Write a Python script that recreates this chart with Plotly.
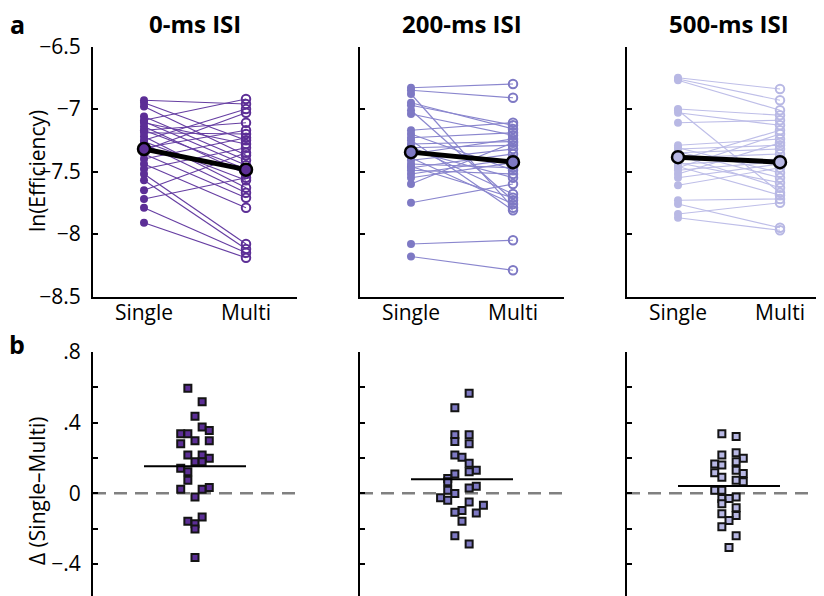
import plotly.graph_objects as go

# ---------------- data ----------------
conditions = ["0-ms ISI", "200-ms ISI", "500-ms ISI"]
categories = ["Single", "Multi"]

single_0 = [-6.93, -6.95, -6.98, -7.06, -7.09, -7.10, -7.11, -7.14, -7.17, -7.17, -7.19, -7.22, -7.25, -7.26,
            -7.28, -7.31, -7.33, -7.36, -7.40, -7.44, -7.48, -7.52, -7.57, -7.65, -7.72, -7.79, -7.91]
multi_0 = [-6.96, -7.25, -7.37, -7.41, -6.92, -7.45, -7.28, -7.52, -7.11, -7.48, -7.20, -7.63, -7.00, -7.57,
           -7.67, -7.17, -7.03, -7.71, -7.23, -7.79, -7.31, -8.08, -8.12, -7.35, -7.55, -8.15, -8.19]

single_200 = [-6.83, -6.85, -6.88, -6.95, -6.97, -7.01, -7.04, -7.17, -7.20, -7.23, -7.25, -7.28, -7.30, -7.31,
              -7.33, -7.36, -7.39, -7.41, -7.44, -7.46, -7.47, -7.49, -7.52, -7.55, -7.60, -7.75, -8.08, -8.18]
multi_200 = [-6.80, -6.91, -7.79, -7.16, -7.13, -7.73, -7.21, -7.11, -7.49, -7.19, -7.81, -7.26, -7.68, -7.29,
             -7.55, -7.24, -7.76, -7.32, -7.47, -7.71, -7.36, -7.52, -7.40, -7.43, -7.27, -7.60, -8.05, -8.29]

single_500 = [-6.75, -6.76, -6.77, -7.00, -7.01, -7.03, -7.11, -7.29, -7.31, -7.32, -7.34, -7.35, -7.37, -7.39,
              -7.41, -7.43, -7.44, -7.46, -7.47, -7.49, -7.52, -7.55, -7.61, -7.73, -7.76, -7.84, -7.87]
multi_500 = [-6.84, -6.93, -7.01, -7.05, -7.67, -7.13, -7.09, -7.24, -7.51, -7.29, -7.55, -7.32, -7.63, -7.36,
             -7.17, -7.59, -7.40, -7.69, -7.20, -7.42, -7.27, -7.44, -7.47, -7.72, -7.95, -7.75, -7.97]

mean_single = [-7.32, -7.345, -7.385]
mean_multi = [-7.485, -7.425, -7.425]

# panel b: difference (Single - Multi) and beeswarm column index
delta_0 = [0.594, 0.518, 0.436, 0.375, 0.356, 0.337, 0.337, 0.280, 0.297, 0.297, 0.217, 0.217, 0.198, 0.179,
           0.179, 0.141, 0.122, 0.074, 0.023, 0.023, 0.032, -0.021, -0.135, -0.158, -0.173, -0.202, -0.364]
col_0 = [-1, 1, 0, 1, 2, -2, -1, -2, 0, 2, -1, 1, 2, 0, 1, -2, -1, -1, -2, 1, 2, 0, 1, -1, 0, 0, 0]

delta_200 = [0.566, 0.484, 0.331, 0.331, 0.293, 0.280, 0.217, 0.204, 0.170, 0.131, 0.122, 0.109, 0.084, 0.065,
             0.017, 0.040, 0.030, -0.002, -0.025, -0.040, -0.049, -0.068, -0.097, -0.107, -0.112, -0.158,
             -0.240, -0.288]
col_200 = [1, -1, -1, 1, -1, 1, -1, 0, 1, 2, 1, -1, -2, -2, -2, 2, 1, -1, -3, -2, 1, 3, 0, -1, 2, 0, -1, 1]

delta_500 = [0.337, 0.322, 0.217, 0.230, 0.198, 0.166, 0.160, 0.179, 0.116, 0.090, 0.131, 0.112, 0.074, 0.065,
             0.017, 0.017, -0.030, -0.021, -0.030, -0.059, -0.082, -0.116, -0.126, -0.154, -0.189, -0.240, -0.307]
col_500 = [-1, 1, -1, 1, 2, -2, -1, 1, -2, -1, 1, 2, 1, 2, -2, -1, -1, 1, 0, -1, 1, -1, 1, 0, -1, 1, 0]

mean_delta = [0.153, 0.079, 0.041]

colors = ["rgb(92,46,150)", "rgb(126,121,196)", "rgb(184,184,228)"]
line_colors = ["rgb(102,62,162)", "rgb(138,134,206)", "rgb(190,190,232)"]

singles = [single_0, single_200, single_500]
multis = [multi_0, multi_200, multi_500]
deltas = [delta_0, delta_200, delta_500]
cols = [col_0, col_200, col_500]

# ---------------- layout geometry ----------------
# the page body adds an 8px offset; positions below are given in page pixels
W, H = 824, 596
OFF = 8
FONT = "Open Sans"
px_x = lambda p: (p - OFF) / W
px_y = lambda p: 1 - (p - OFF) / H

x_domains = [[px_x(93), px_x(297)], [px_x(360), px_x(564)], [px_x(627), 1.0]]
x_ranges = [[0.5, 2.5], [0.5, 2.5], [0.5, 0.5 + (W + OFF - 627) / 102.0]]
ya_domain = [px_y(296.5), px_y(46.5)]
yb_domain = [0.0, px_y(352)]
yb_range = [-(H + OFF - 493.3) / 176.5, 0.8]

fig = go.Figure()

for i in range(3):
    xa = "x" if i == 0 else f"x{i+1}"
    ya = "y" if i == 0 else f"y{i+1}"
    xb = f"x{i+4}"
    yb = f"y{i+4}"
    # subject lines
    lx, ly = [], []
    for s, m in zip(singles[i], multis[i]):
        lx += [1, 2, None]
        ly += [s, m, None]
    fig.add_trace(go.Scatter(x=lx, y=ly, mode="lines", xaxis=xa, yaxis=ya,
                             line=dict(color=line_colors[i], width=1.2), hoverinfo="skip"))
    fig.add_trace(go.Scatter(x=[1] * len(singles[i]), y=singles[i], mode="markers", xaxis=xa, yaxis=ya,
                             marker=dict(symbol="circle", size=8, color=colors[i], line=dict(width=0))))
    fig.add_trace(go.Scatter(x=[2] * len(multis[i]), y=multis[i], mode="markers", xaxis=xa, yaxis=ya,
                             marker=dict(symbol="circle-open", size=8.5, color=colors[i],
                                         line=dict(width=2, color=colors[i]))))
    fig.add_trace(go.Scatter(x=[1, 2], y=[mean_single[i], mean_multi[i]], mode="lines+markers",
                             xaxis=xa, yaxis=ya, line=dict(color="black", width=5),
                             marker=dict(symbol="circle", size=12, color=colors[i],
                                         line=dict(width=2.5, color="black"))))
    # panel b
    xr = x_ranges[i]
    fig.add_trace(go.Scatter(x=xr, y=[0, 0], mode="lines", xaxis=xb, yaxis=yb,
                             line=dict(color="rgb(128,128,128)", width=2.5, dash="13px,8px")))
    fig.add_trace(go.Scatter(x=[1.5 + c * 0.07 for c in cols[i]], y=deltas[i], mode="markers",
                             xaxis=xb, yaxis=yb,
                             marker=dict(symbol="square", size=7, color=colors[i],
                                         line=dict(width=2, color="rgb(20,20,20)"))))
    fig.add_trace(go.Scatter(x=[1, 2], y=[mean_delta[i]] * 2, mode="lines", xaxis=xb, yaxis=yb,
                             line=dict(color="black", width=2)))

layout = dict(width=W, height=H, margin=dict(l=0, r=0, t=0, b=0, autoexpand=False), showlegend=False,
              plot_bgcolor="white", paper_bgcolor="white",
              font=dict(family=FONT, size=21, color="black"))

for i in range(3):
    k = "" if i == 0 else str(i + 1)
    layout[f"xaxis{k}"] = dict(domain=x_domains[i], range=x_ranges[i], anchor=f"y{k}", automargin=False,
                               showline=True, linewidth=2, linecolor="black", ticks="",
                               tickvals=[1, 2], ticktext=categories, showgrid=False, zeroline=False,
                               ticklabelstandoff=-4, tickfont=dict(size=21, family=FONT))
    layout[f"yaxis{k}"] = dict(domain=ya_domain, range=[-8.5, -6.5], anchor=f"x{k}", automargin=False,
                               showline=True, linewidth=2, linecolor="black", ticks="inside",
                               ticklen=5, tickwidth=2, tickcolor="black",
                               tickvals=[-8.5, -8, -7.5, -7, -6.5],
                               ticktext=["\u22128.5", "\u22128", "\u22127.5", "\u22127", "\u22126.5"],
                               showticklabels=(i == 0), showgrid=False, zeroline=False,
                               ticklabelstandoff=6, tickfont=dict(size=21, family=FONT))
    kb = str(i + 4)
    layout[f"xaxis{kb}"] = dict(domain=x_domains[i], range=x_ranges[i], anchor=f"y{kb}", automargin=False,
                                showline=False, ticks="", showticklabels=False, showgrid=False,
                                zeroline=False)
    layout[f"yaxis{kb}"] = dict(domain=yb_domain, range=yb_range, anchor=f"x{kb}", automargin=False,
                                showline=True, linewidth=2, linecolor="black", ticks="inside",
                                ticklen=5, tickwidth=2, tickcolor="black",
                                tickvals=[-0.4, -0.2, 0, 0.2, 0.4, 0.6, 0.8],
                                ticktext=["\u2212.4", "", "0", "", ".4", "", ".8"],
                                showticklabels=(i == 0), showgrid=False, zeroline=False,
                                ticklabelstandoff=6, tickfont=dict(size=21, family=FONT))

annotations = []
for i, t in enumerate(conditions):
    cx = x_domains[i][0] + 102 / W
    annotations.append(dict(text=f"<b>{t}</b>", x=cx, y=px_y(23), xref="paper", yref="paper",
                            showarrow=False, xanchor="center", yanchor="middle",
                            font=dict(size=24, family=FONT)))
annotations.append(dict(text="<b>a</b>", x=px_x(17), y=px_y(24), xref="paper", yref="paper",
                        showarrow=False, xanchor="center", yanchor="middle", font=dict(size=25, family=FONT)))
annotations.append(dict(text="<b>b</b>", x=px_x(17), y=px_y(344), xref="paper", yref="paper",
                        showarrow=False, xanchor="center", yanchor="middle", font=dict(size=25, family=FONT)))
annotations.append(dict(text="ln(Efficiency)", x=px_x(37), y=px_y(171), xref="paper", yref="paper",
                        showarrow=False, textangle=-90, xanchor="center", yanchor="middle",
                        font=dict(size=21, family=FONT)))
annotations.append(dict(text="\u0394 (Single\u2013Multi)", x=px_x(37), y=px_y(491), xref="paper",
                        yref="paper", showarrow=False, textangle=-90, xanchor="center", yanchor="middle",
                        font=dict(size=21, family=FONT)))
layout["annotations"] = annotations

fig.update_layout(**layout)
fig.write_html("out.html")
